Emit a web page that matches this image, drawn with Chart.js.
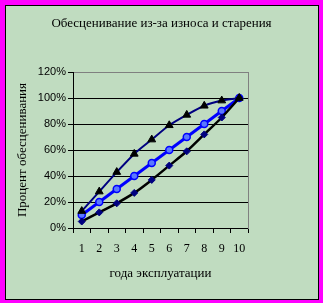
<!DOCTYPE html>
<html>
<head>
<meta charset="utf-8">
<script src="https://cdn.jsdelivr.net/npm/chart.js@4.4.1/dist/chart.umd.min.js"></script>
<style>
  html, body { margin: 0; padding: 0; background: #ff00ff; }
  #wrap { position: relative; width: 323px; height: 303px; }
  #panel { position: absolute; left: 5px; top: 5px; width: 312px; height: 293px;
           border: 1px solid #000; background: #c0dcc0; }
  #c { position: absolute; left: 0; top: 0; }
</style>
</head>
<body>
<div id="wrap">
  <div id="panel"></div>
  <canvas id="c" width="323" height="303"></canvas>
</div>
<script>
// ── DATA ─────────────────────────────────────────────────────────────────────
const years = ['1', '2', '3', '4', '5', '6', '7', '8', '9', '10'];
const triangleSeries = [13, 28, 43, 57, 68, 79, 87, 94, 98, 100];
const circleSeries = [10, 20, 30, 40, 50, 60, 70, 80, 90, 100];
const diamondSeries = [5, 12, 19, 27, 37, 48, 59, 72, 85, 100];
const yTicks = [0, 20, 40, 60, 80, 100, 120];

const titleText = 'Обесценивание из-за износа и старения';
const xTitle = 'года эксплуатации';
const yTitle = 'Процент обесценивания';

// ── CHART ────────────────────────────────────────────────────────────────────
const serif = '"Liberation Serif", "Times New Roman", serif';
const sans = '"Liberation Sans", Arial, sans-serif';

new Chart(document.getElementById('c'), {
  type: 'line',
  data: {
    labels: years,
    datasets: [
      { data: triangleSeries, borderColor: '#000080', borderWidth: 2,
        pointStyle: 'triangle', pointRadius: 4.5, pointBackgroundColor: '#000', pointBorderColor: '#000', pointBorderWidth: 1 },
      { data: diamondSeries, borderColor: '#000', borderWidth: 2.5,
        pointStyle: 'rectRot', pointRadius: 3.5, pointBackgroundColor: '#000080', pointBorderColor: '#000080', pointBorderWidth: 1 },
      { data: circleSeries, borderColor: '#0000ff', borderWidth: 3,
        pointStyle: 'circle', pointRadius: 3.5, pointBackgroundColor: '#5a78ff', pointBorderColor: '#0000ff', pointBorderWidth: 1.5 }
    ]
  },
  options: {
    responsive: false, animation: false,
    layout: { padding: 0 },
    elements: { line: { tension: 0.25 } },
    plugins: {
      legend: { display: false },
      tooltip: { enabled: false },
      title: { display: true, text: titleText, color: '#000',
               font: { family: serif, size: 13, weight: 'normal' },
               padding: { top: 16, bottom: 40.4 } }
    },
    scales: {
      x: {
        type: 'category', offset: true,
        grid: { offset: true, drawOnChartArea: false, drawTicks: true, tickLength: 5, tickColor: '#000' },
        border: { color: '#000', width: 1 },
        ticks: { color: '#000', font: { family: serif, size: 12 }, padding: 9, maxRotation: 0, autoSkip: false },
        title: { display: true, text: xTitle, color: '#000', font: { family: serif, size: 13 },
                 padding: { top: 0, bottom: 22 } },
        afterFit(s) { s.height = 75; }
      },
      y: {
        min: 0, max: 120,
        afterBuildTicks(s) { s.ticks = yTicks.map(v => ({ value: v })); },
        grid: { color: c => (c.tick && c.tick.value === 120) ? '#808080' : '#000',
                tickColor: '#000', tickLength: 5, lineWidth: 1 },
        border: { color: '#000', width: 1 },
        ticks: { color: '#000', font: { family: sans, size: 11 }, padding: 2, callback: v => v + '%' },
        title: { display: true, text: yTitle, color: '#000', font: { family: serif, size: 13 },
                 padding: { top: 14.7, bottom: 0 } },
        afterFit(s) { s.width = 73; }
      },
      // empty right axis: only its grey edge shows, it also reserves the right margin
      yRight: {
        position: 'right', min: 0, max: 120,
        grid: { drawOnChartArea: false, drawTicks: false },
        border: { color: '#808080', width: 1 },
        ticks: { display: false },
        afterFit(s) { s.width = 75; }
      }
    }
  }
});
</script>
</body>
</html>
